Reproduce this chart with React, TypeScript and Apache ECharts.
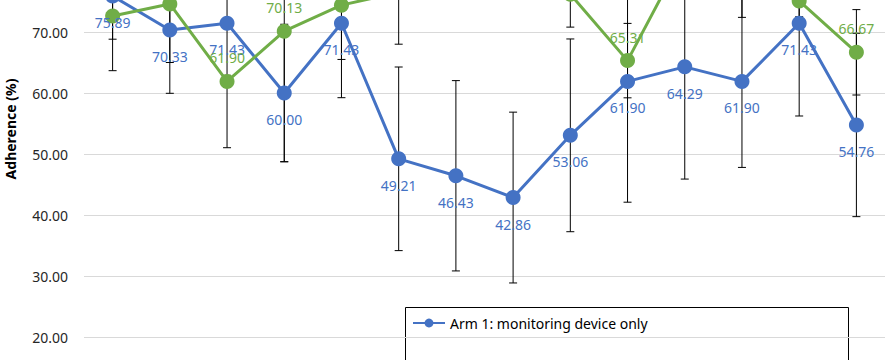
import React, { useEffect, useRef } from 'react';
import * as echarts from 'echarts';

// ---- data ----
const CATEGORIES = ['1', '2', '3', '4', '5', '6', '7', '8', '9', '10', '11', '12', '13', '14'];
const ARM1_NAME = 'Arm 1: monitoring device only';
const ARM2_NAME = 'Arm 2';
const ARM1 = [75.89, 70.33, 71.43, 60.0, 71.43, 49.21, 46.43, 42.86, 53.06, 61.9, 64.29, 61.9, 71.43, 54.76];
const ARM1_ERR = [12.23, 10.38, 20.4, 11.27, 12.2, 15.05, 15.6, 14.0, 15.8, 19.8, 18.4, 14.1, 15.2, 15.03];
const ARM2 = [72.62, 74.6, 61.9, 70.13, 74.4, 76.5, 82.0, 85.0, 76.2, 65.31, 83.0, 80.0, 75.1, 66.67];
const ARM2_ERR = [3.8, 9.6, 1.0, 21.4, 8.9, 8.5, 5.0, 6.0, 5.4, 6.1, 6.0, 7.6, 2.6, 7.0];
const Y_TICKS = [20, 30, 40, 50, 60, 70];
const Y_TITLE = 'Adherence (%)';

const BLUE = '#4472C4';
const GREEN = '#70AD47';
const FONT = '"Noto Sans", "Open Sans", sans-serif';

function errorSeries(name: string, values: number[], errs: number[]) {
  return {
    type: 'custom',
    name: name + ' error',
    data: values.map((v, i) => [i, v - errs[i], v + errs[i]]),
    encode: { x: 0, y: [1, 2] },
    z: 1,
    silent: true,
    clip: false,
    renderItem: (params: any, api: any) => {
      const x = api.value(0);
      const lo = api.coord([x, api.value(1)]);
      const hi = api.coord([x, api.value(2)]);
      const hw = 4;
      const style = { stroke: '#000', lineWidth: 1 };
      return {
        type: 'group',
        children: [
          { type: 'line', shape: { x1: lo[0], y1: lo[1], x2: hi[0], y2: hi[1] }, style },
          { type: 'line', shape: { x1: lo[0] - hw, y1: lo[1], x2: lo[0] + hw, y2: lo[1] }, style },
          { type: 'line', shape: { x1: hi[0] - hw, y1: hi[1], x2: hi[0] + hw, y2: hi[1] }, style },
        ],
      };
    },
  };
}

function lineSeries(name: string, values: number[], color: string, pos: 'top' | 'bottom') {
  return {
    type: 'line',
    name,
    data: values,
    z: 3,
    symbol: 'circle',
    symbolSize: 15,
    clip: false,
    itemStyle: { color },
    lineStyle: { color, width: 3 },
    label: {
      show: true,
      position: pos,
      distance: pos === 'top' ? 9 : 12,
      color,
      fontSize: 14,
      fontFamily: FONT,
      formatter: (p: any) => Number(p.value).toFixed(2),
    },
  };
}

export default function App() {
  const ref = useRef<HTMLDivElement>(null);
  useEffect(() => {
    if (!ref.current) return;
    const chart = echarts.init(ref.current, null, { renderer: 'svg' });
    chart.setOption({
      animation: false,
      backgroundColor: '#fff',
      grid: { left: 84, right: 2, top: 11, bottom: 22 },
      xAxis: {
        type: 'category',
        data: CATEGORIES,
        boundaryGap: true,
        axisLine: { show: false },
        axisTick: { show: false },
        axisLabel: { show: false },
        splitLine: { show: false },
      },
      yAxis: {
        type: 'value',
        min: 10,
        max: 80,
        interval: 10,
        axisLine: { show: false },
        axisTick: { show: false },
        splitLine: { lineStyle: { color: '#d9d9d9', width: 1 } },
        axisLabel: {
          margin: 16,
          fontSize: 14,
          fontFamily: FONT,
          color: '#262626',
          formatter: (v: number) => (Y_TICKS.includes(v) ? v.toFixed(2) : ''),
        },
      },
      legend: {
        data: [ARM1_NAME],
        left: 412,
        top: 356,
        padding: 0,
        itemWidth: 32,
        itemHeight: 11,
        textStyle: { fontSize: 14, fontFamily: FONT, color: '#000' },
      },
      graphic: [
        {
          type: 'rect',
          shape: { x: 405.5, y: 347.5, width: 443, height: 200 },
          style: { fill: 'none', stroke: '#000', lineWidth: 1 },
          z: 0,
          silent: true,
        },
        {
          type: 'text',
          x: 10,
          y: 169,
          rotation: Math.PI / 2,
          style: {
            text: Y_TITLE,
            fontSize: 14,
            fontWeight: 'bold',
            fontFamily: FONT,
            fill: '#000',
            align: 'center',
            verticalAlign: 'middle',
            textAlign: 'center',
            textVerticalAlign: 'middle',
          },
        },
      ],
      series: [
        errorSeries(ARM1_NAME, ARM1, ARM1_ERR),
        errorSeries(ARM2_NAME, ARM2, ARM2_ERR),
        lineSeries(ARM1_NAME, ARM1, BLUE, 'bottom'),
        lineSeries(ARM2_NAME, ARM2, GREEN, 'top'),
      ],
    });
    return () => chart.dispose();
  }, []);

  return (
    <div style={{ position: 'fixed', top: 0, left: 0, width: 887, height: 360, overflow: 'hidden', background: '#fff' }}>
      <div ref={ref} style={{ position: 'absolute', top: -40, left: 0, width: 887, height: 460 }} />
    </div>
  );
}
